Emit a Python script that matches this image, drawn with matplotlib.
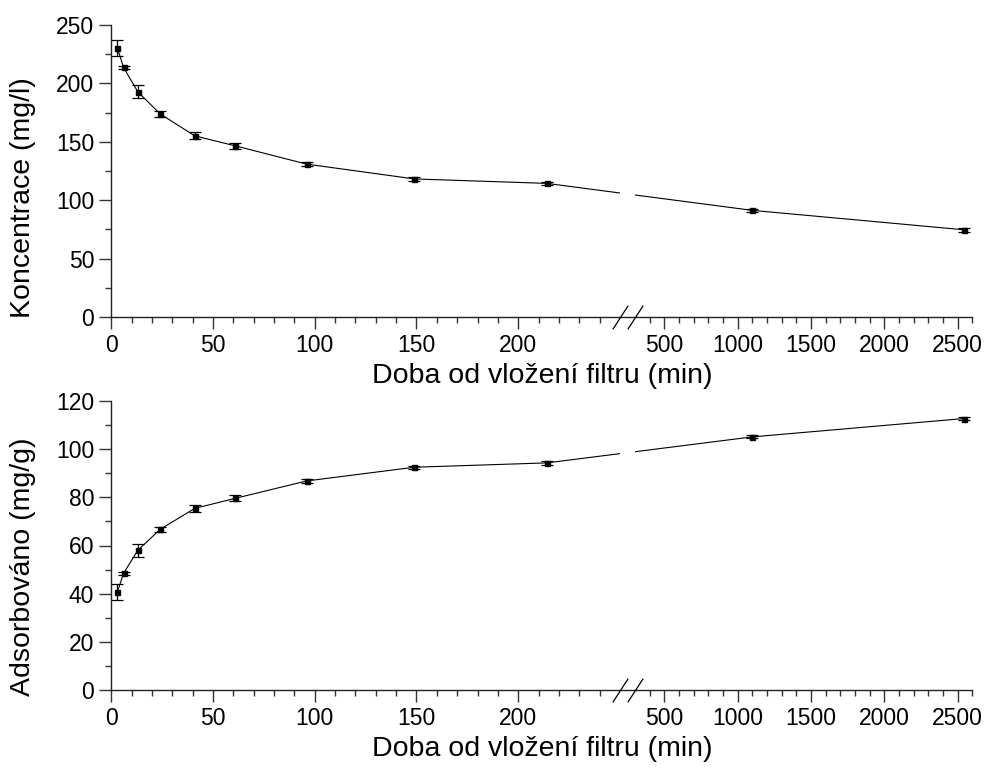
import numpy as np
import matplotlib
matplotlib.use("Agg")
import matplotlib.pyplot as plt
from matplotlib.scale import FuncScale
from matplotlib.ticker import FixedLocator, NullFormatter, FixedFormatter

plt.rcParams['font.family'] = ['Liberation Sans', 'DejaVu Sans']

# ---- data ----
time_min = [3, 6, 13, 24, 41, 61, 96, 149, 214, 1100, 2540]
conc = [230.4, 213.7, 192.9, 173.9, 155.1, 146.5, 130.9, 118.2, 114.4, 91.3, 74.7]
conc_err = [6.7, 1.0, 5.6, 2.3, 3.0, 2.5, 2.0, 1.5, 1.5, 1.5, 1.5]
ads = [40.7, 48.4, 58.0, 66.7, 75.4, 79.6, 86.8, 92.5, 94.3, 105.1, 112.7]
ads_err = [3.2, 0.7, 2.6, 1.0, 1.5, 1.2, 1.0, 0.7, 0.8, 0.6, 0.6]

x_major_left = [0, 50, 100, 150, 200]
x_major_right = [500, 1000, 1500, 2000, 2500]
x_label = "Doba od vložení filtru (min)"
y_label_top = "Koncentrace (mg/l)"
y_label_bottom = "Adsorbováno (mg/g)"

# ---- broken x scale ----
B1, B2 = 250.0, 300.0
G = 7.4
K = 0.07208


def fwd(x):
    x = np.asarray(x, dtype=float)
    return np.where(x <= B1, x,
                    np.where(x >= B2, B1 + G + (x - B2) * K,
                             B1 + (x - B1) * G / (B2 - B1)))


def inv(y):
    y = np.asarray(y, dtype=float)
    return np.where(y <= B1, y,
                    np.where(y >= B1 + G, B2 + (y - B1 - G) / K,
                             B1 + (y - B1) * (B2 - B1) / G))


fig = plt.figure(figsize=(9.86, 7.79), dpi=100)
L = 111.3 / 986
W = (972.3 - 111.3) / 986
ax1 = fig.add_axes([L, 1 - 317 / 779, W, (317 - 25) / 779])
ax2 = fig.add_axes([L, 1 - 690 / 779, W, (690 - 401) / 779])

x_minor = [v for v in range(10, 250, 10) if v % 50 != 0] + \
          [v for v in range(400, 2700, 100) if v % 500 != 0]

panels = [
    (ax1, conc, conc_err, (0, 250), np.arange(0, 251, 50), np.arange(25, 250, 50),
     y_label_top, 0.41, -0.158),
    (ax2, ads, ads_err, (0, 120), np.arange(0, 121, 20), np.arange(10, 120, 20),
     y_label_bottom, 0.425, -0.158),
]

for ax, yv, ye, ylim, ymaj, ymin, ylab, ylab_y, xlab_y in panels:
    ax.set_xscale(FuncScale(ax, (fwd, inv)))
    ax.errorbar(time_min, yv, yerr=ye, fmt='s', color='black', ms=3.6,
                lw=0.8, elinewidth=0.9, capsize=4.0, capthick=0.9, zorder=3)
    ax.plot(time_min, yv, color='black', lw=0.8, zorder=2)
    ax.set_xlim(0, 2600)
    ax.set_ylim(*ylim)
    # gap in the data line at the break
    ax.axvspan(B1, B2, ymin=0.004, ymax=1, facecolor='white', edgecolor='none', zorder=3.5)
    # break marks
    ax.plot([B1, B2], [0, 0], linestyle='none',
            marker=[(-0.65, -1), (0.65, 1)], ms=17, mew=0.9,
            mec='black', mfc='none', clip_on=False, zorder=5,
            transform=ax.get_xaxis_transform())

    ax.xaxis.set_major_locator(FixedLocator(x_major_left + x_major_right))
    ax.xaxis.set_major_formatter(FixedFormatter([str(v) for v in x_major_left + x_major_right]))
    ax.xaxis.set_minor_locator(FixedLocator(x_minor))
    ax.xaxis.set_minor_formatter(NullFormatter())
    ax.yaxis.set_major_locator(FixedLocator(ymaj))
    ax.yaxis.set_minor_locator(FixedLocator(ymin))

    for s in ('top', 'right'):
        ax.spines[s].set_visible(False)
    for s in ('left', 'bottom'):
        ax.spines[s].set_linewidth(1.0)
        ax.spines[s].set_color('#222222')
    ax.tick_params(axis='both', which='major', direction='out', length=8.3,
                   width=1.0, color='#333333', labelsize=16.5, pad=4)
    ax.tick_params(axis='both', which='minor', direction='out', length=4.3,
                   width=1.0, color='#333333')

    ax.set_ylabel(ylab, fontsize=20.5)
    ax.yaxis.set_label_coords(-0.088, ylab_y)
    ax.set_xlabel(x_label, fontsize=20.5)
    ax.xaxis.set_label_coords(0.5, xlab_y)

fig.savefig("out.png", dpi=100)
